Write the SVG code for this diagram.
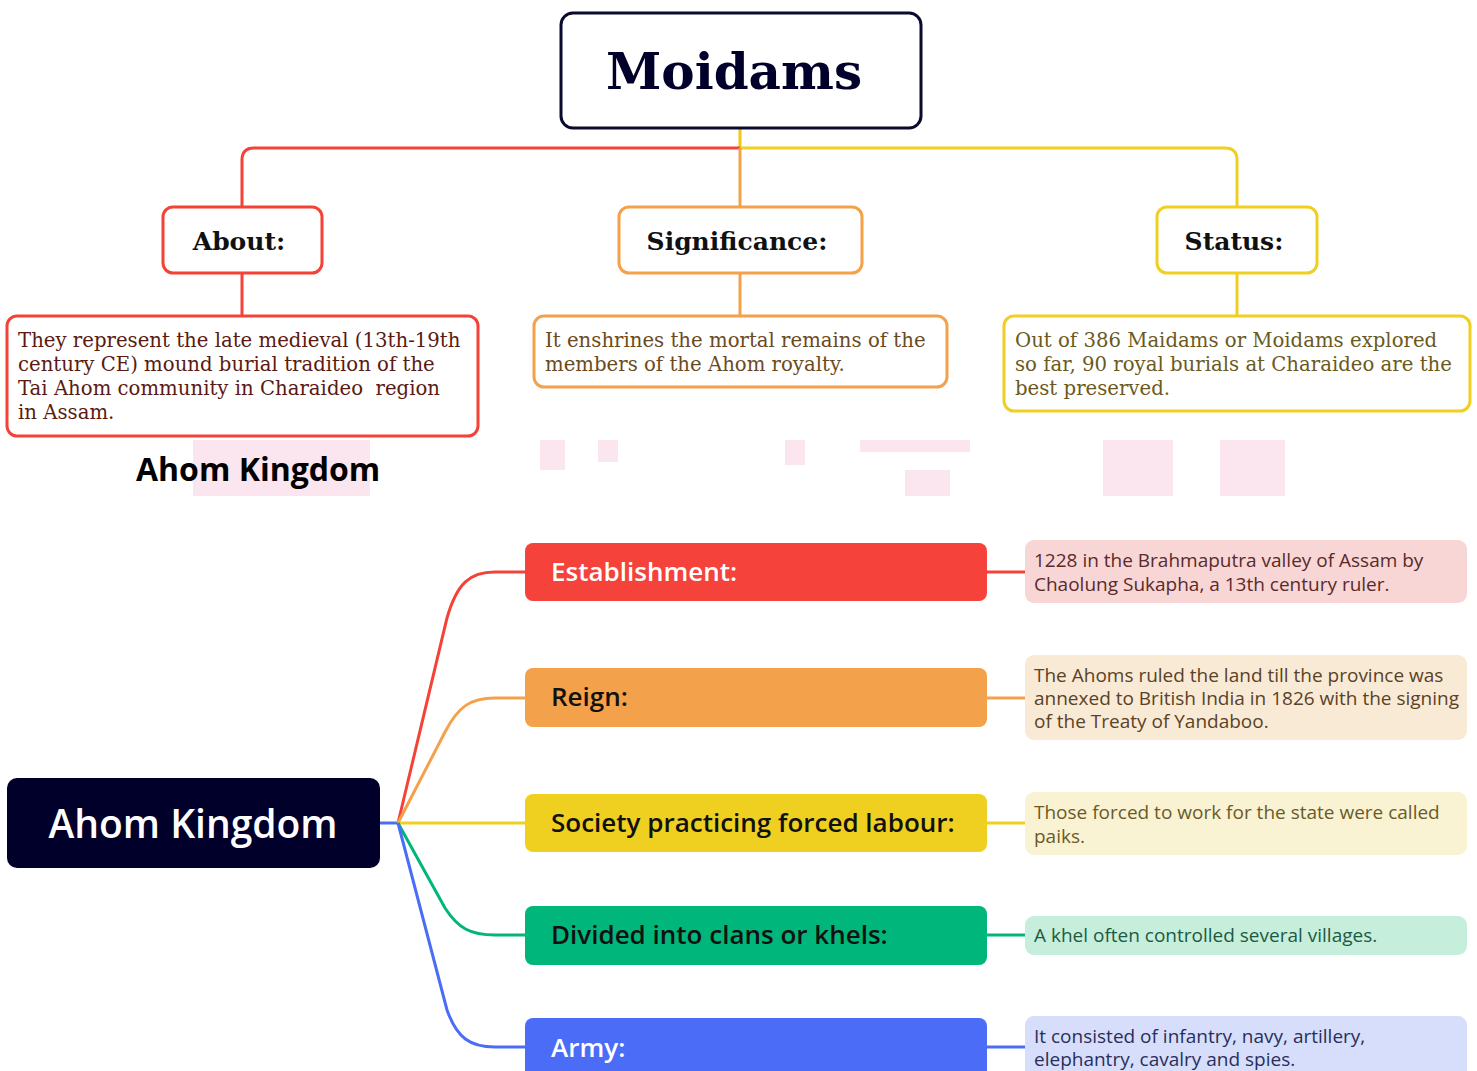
<svg xmlns="http://www.w3.org/2000/svg" width="1477" height="1071" viewBox="0 0 1477 1071">
<style>
.serifb{font-family:"DejaVu Serif","Liberation Serif",serif;font-weight:bold;}
.serif{font-family:"DejaVu Serif","Liberation Serif",serif;font-size:19.7px;white-space:pre;}
.sans{font-family:"Open Sans","Noto Sans","Liberation Sans",sans-serif;}
.bar{font-family:"Open Sans","Noto Sans","Liberation Sans",sans-serif;font-size:26px;font-weight:600;}
.det{font-family:"Open Sans","Noto Sans","Liberation Sans",sans-serif;font-size:19px;}
.con{fill:none;stroke-width:3;}
</style>
<rect width="1477" height="1071" fill="#ffffff"/>
<g id="watermark" fill="#f9d6e6" opacity="0.6">
<rect x="193" y="440" width="177" height="56"/>
<rect x="540" y="440" width="25" height="30"/>
<rect x="598" y="440" width="20" height="22"/>
<rect x="785" y="440" width="20" height="25"/>
<rect x="860" y="440" width="110" height="12"/>
<rect x="905" y="470" width="45" height="26"/>
<rect x="1103" y="440" width="70" height="56"/>
<rect x="1220" y="440" width="65" height="56"/>
</g>
<g id="connectors">
<path class="con" stroke="#f5c518" d="M740,128 V148"/>
<path class="con" stroke="#f44336" d="M740,148 H254 Q242,148 242,160 V207"/>
<path class="con" stroke="#f0cf20" d="M740,148 H1225 Q1237,148 1237,160 V207"/>
<path class="con" stroke="#f5a04a" d="M740,148 V207"/>
<path class="con" stroke="#f44336" d="M242,273 V316"/>
<path class="con" stroke="#f5a04a" d="M740,273 V316"/>
<path class="con" stroke="#f0cf20" d="M1237,273 V316"/>
<path class="con" stroke="#4a6cf7" d="M380,823 H398"/>
<path class="con" stroke="#f44336" d="M398,823 L447,618 C457,583 470,572 495,572 H525"/>
<path class="con" stroke="#f5a04a" d="M398,823 L445,732 C458,707 470,698 495,698 H525"/>
<path class="con" stroke="#f0cf20" d="M398,823 H525"/>
<path class="con" stroke="#00b67a" d="M398,823 L445,908 C458,928 470,935 495,935 H525"/>
<path class="con" stroke="#4a6cf7" d="M398,823 L447,1010 C457,1038 470,1047 495,1047 H525"/>
<path class="con" stroke="#f44336" d="M987,572 H1025"/>
<path class="con" stroke="#f5a04a" d="M987,698 H1025"/>
<path class="con" stroke="#f0cf20" d="M987,823 H1025"/>
<path class="con" stroke="#00b67a" d="M987,935 H1025"/>
<path class="con" stroke="#4a6cf7" d="M987,1047 H1025"/>
</g>
<g id="moidams">
<rect x="561" y="13" width="360" height="115" rx="12" fill="#fff" stroke="#0a0a2e" stroke-width="3"/>
<text class="serifb" x="734" y="89" font-size="50" text-anchor="middle" fill="#00002a">Moidams</text>
</g>
<g id="about">
<rect x="163" y="207" width="159" height="66" rx="10" fill="#fff" stroke="#f44336" stroke-width="3"/>
<text class="serifb" x="239" y="250" font-size="25" text-anchor="middle" fill="#111">About:</text>
</g>
<g id="significance">
<rect x="619" y="207" width="243" height="66" rx="10" fill="#fff" stroke="#f5a04a" stroke-width="3"/>
<text class="serifb" x="737" y="250" font-size="25" text-anchor="middle" fill="#111">Significance:</text>
</g>
<g id="status">
<rect x="1157" y="207" width="160" height="66" rx="10" fill="#fff" stroke="#f0cf20" stroke-width="3"/>
<text class="serifb" x="1234" y="250" font-size="25" text-anchor="middle" fill="#111">Status:</text>
</g>
<g id="about-desc">
<rect x="7" y="316" width="471" height="120" rx="10" fill="#fff" stroke="#f44336" stroke-width="3"/>
<text class="serif" fill="#5a1a12"><tspan x="18" y="347">They represent the late medieval (13th-19th</tspan><tspan x="18" y="371">century CE) mound burial tradition of the</tspan><tspan x="18" y="395">Tai Ahom community in Charaideo  region</tspan><tspan x="18" y="419">in Assam.</tspan></text>
</g>
<g id="significance-desc">
<rect x="534" y="316" width="413" height="71" rx="10" fill="#fff" stroke="#f5a04a" stroke-width="3"/>
<text class="serif" fill="#6b4a1e"><tspan x="545" y="347">It enshrines the mortal remains of the</tspan><tspan x="545" y="371">members of the Ahom royalty.</tspan></text>
</g>
<g id="status-desc">
<rect x="1004" y="316" width="466" height="95" rx="10" fill="#fff" stroke="#f0cf20" stroke-width="3"/>
<text class="serif" fill="#6b5a1e"><tspan x="1015" y="347">Out of 386 Maidams or Moidams explored</tspan><tspan x="1015" y="371">so far, 90 royal burials at Charaideo are the</tspan><tspan x="1015" y="395">best preserved.</tspan></text>
</g>
<g id="caption">
<text class="sans" x="136" y="481" font-size="32" font-weight="bold" fill="#000">Ahom Kingdom</text>
</g>
<g id="ahom">
<rect x="7" y="778" width="373" height="90" rx="10" fill="#00002a"/>
<text class="sans" x="193" y="838" font-size="39" font-weight="600" text-anchor="middle" fill="#fff">Ahom Kingdom</text>
</g>
<g id="establishment">
<rect x="525" y="543" width="462" height="58" rx="8" fill="#f5423a"/>
<text class="bar" x="551" y="581" fill="#fff">Establishment:</text>
</g>
<g id="reign">
<rect x="525" y="668" width="462" height="59" rx="8" fill="#f4a14b"/>
<text class="bar" x="551" y="706" fill="#111">Reign:</text>
</g>
<g id="society">
<rect x="525" y="794" width="462" height="58" rx="8" fill="#efd020"/>
<text class="bar" x="551" y="832" fill="#111">Society practicing forced labour:</text>
</g>
<g id="divided">
<rect x="525" y="906" width="462" height="59" rx="8" fill="#00b67a"/>
<text class="bar" x="551" y="944" fill="#111">Divided into clans or khels:</text>
</g>
<g id="army">
<rect x="525" y="1018" width="462" height="70" rx="8" fill="#4a6cf7"/>
<text class="bar" x="551" y="1057" fill="#fff">Army:</text>
</g>
<g id="establishment-desc">
<rect x="1025" y="540" width="442" height="63" rx="9" fill="#f8d6d6"/>
<text class="det" fill="#5a2a2a"><tspan x="1034" y="567">1228 in the Brahmaputra valley of Assam by</tspan><tspan x="1034" y="591">Chaolung Sukapha, a 13th century ruler.</tspan></text>
</g>
<g id="reign-desc">
<rect x="1025" y="655" width="442" height="85" rx="9" fill="#f9ead6"/>
<text class="det" font-size="18.7" fill="#5a4226"><tspan x="1034" y="682">The Ahoms ruled the land till the province was</tspan><tspan x="1034" y="705">annexed to British India in 1826 with the signing</tspan><tspan x="1034" y="728">of the Treaty of Yandaboo.</tspan></text>
</g>
<g id="society-desc">
<rect x="1025" y="792" width="442" height="63" rx="9" fill="#f9f3d3"/>
<text class="det" fill="#6b5a2a"><tspan x="1034" y="819">Those forced to work for the state were called</tspan><tspan x="1034" y="843">paiks.</tspan></text>
</g>
<g id="divided-desc">
<rect x="1025" y="916" width="442" height="39" rx="9" fill="#c5eedd"/>
<text class="det" x="1034" y="942" fill="#1e5a3e">A khel often controlled several villages.</text>
</g>
<g id="army-desc">
<rect x="1025" y="1016" width="442" height="70" rx="9" fill="#d6defc"/>
<text class="det" fill="#2a2e5a"><tspan x="1034" y="1043">It consisted of infantry, navy, artillery,</tspan><tspan x="1034" y="1066">elephantry, cavalry and spies.</tspan></text>
</g>
</svg>
